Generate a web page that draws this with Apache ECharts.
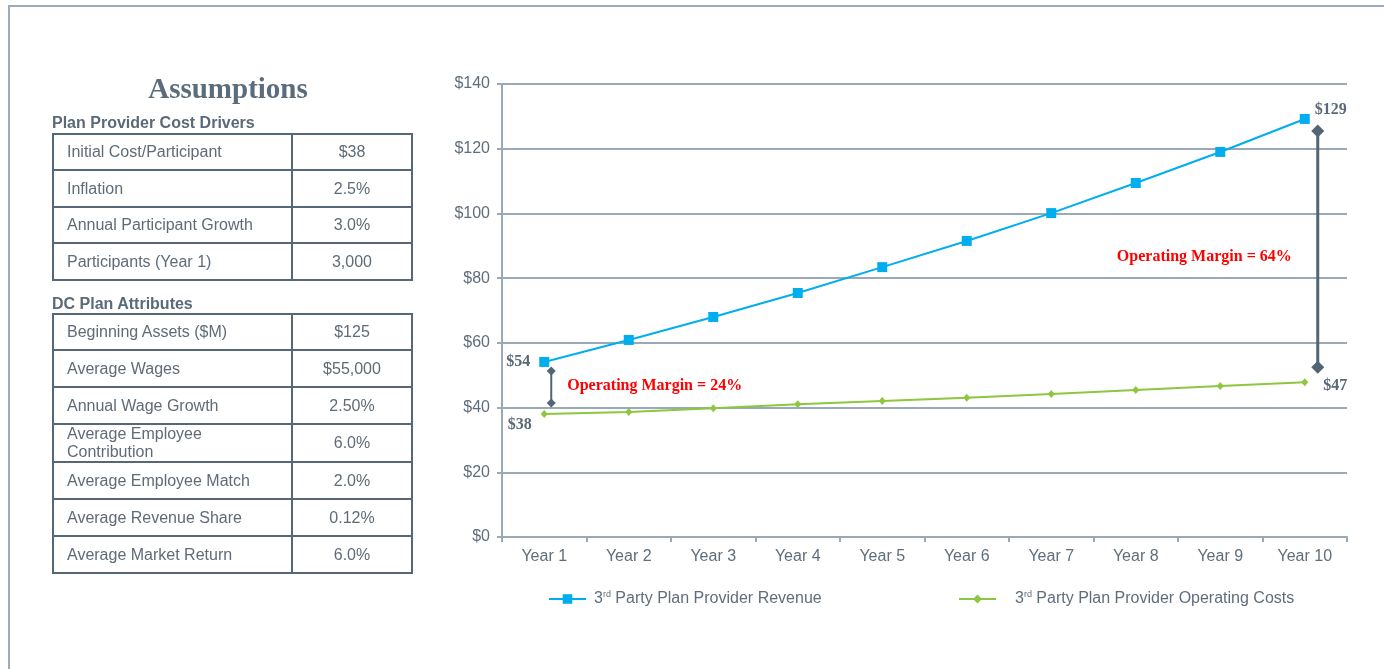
<!DOCTYPE html>
<html>
<head>
<meta charset="utf-8">
<script src="https://cdn.jsdelivr.net/npm/echarts@6/dist/echarts.min.js"></script>
<style>
  html, body { margin: 0; padding: 0; background: #ffffff; }
  body { width: 1384px; height: 669px; position: relative; overflow: hidden; font-family: "Liberation Sans", Arial, sans-serif; }
  #frame { position: absolute; left: 8px; top: 5px; width: 1376px; height: 664px; border-top: 2px solid #9eabb8; border-left: 2px solid #9eabb8; box-sizing: border-box; }
  #chart { position: absolute; left: 0; top: 0; width: 1384px; height: 669px; }
  #left { position: absolute; left: 52px; top: 0; width: 360px; z-index: 2; color: #5a6876; }
  h1 { position: absolute; left: 0; top: 70px; width: 352px; margin: 0; text-align: center; font-family: "Liberation Serif", "Times New Roman", serif; font-weight: bold; font-size: 29px; line-height: 36px; color: #5b6c7c; }
  .cap { position: absolute; left: 0; margin: 0; font-weight: bold; font-size: 16px; line-height: 18px; color: #5b6a79; white-space: nowrap; }
  table { position: absolute; left: 0; border-collapse: collapse; table-layout: fixed; width: 359px; }
  td { border: 2px solid #566777; font-size: 16px; color: #5f6b78; padding: 0 0 0 13px; line-height: 18px; white-space: nowrap; }
  td.v { text-align: center; padding: 0; }
  td.two { white-space: normal; line-height: 18px; }
</style>
</head>
<body>
<div id="frame"></div>
<div id="chart"></div>
<div id="left">
  <h1 id="title"></h1>
  <div class="cap" id="cap1" style="top:114px"></div>
  <table id="t1" style="top:133px"></table>
  <div class="cap" id="cap2" style="top:295px"></div>
  <table id="t2" style="top:313px"></table>
</div>
<script>
// ---------- data ----------
const title = 'Assumptions';
const costDriverTitle = 'Plan Provider Cost Drivers';
const costDriverLabels = ['Initial Cost/Participant', 'Inflation', 'Annual Participant Growth', 'Participants (Year 1)'];
const costDriverValues = ['$38', '2.5%', '3.0%', '3,000'];
const planAttrTitle = 'DC Plan Attributes';
const planAttrLabels = ['Beginning Assets ($M)', 'Average Wages', 'Annual Wage Growth', 'Average Employee Contribution', 'Average Employee Match', 'Average Revenue Share', 'Average Market Return'];
const planAttrValues = ['$125', '$55,000', '2.50%', '6.0%', '2.0%', '0.12%', '6.0%'];

const years = ['Year 1', 'Year 2', 'Year 3', 'Year 4', 'Year 5', 'Year 6', 'Year 7', 'Year 8', 'Year 9', 'Year 10'];
const revenue = [54.1, 60.9, 68.0, 75.4, 83.4, 91.5, 100.1, 109.4, 119.0, 129.2];
const costs = [38.0, 38.6, 39.8, 41.0, 42.0, 43.0, 44.2, 45.4, 46.7, 47.8];
const revenueName = '3rd Party Plan Provider Revenue';
const costsName = '3rd Party Plan Provider Operating Costs';
const yTicks = { min: 0, max: 140, interval: 20 };

const revenueLabels = { 0: '$54', 9: '$129' };
const costLabels = { 0: '$38', 9: '$47' };

const marginYearIndex = [0, 9];
const marginTop = [51.3, 125.5];
const marginBottom = [41.4, 52.5];
const marginText = ['Operating Margin = 24%', 'Operating Margin = 64%'];

// ---------- tables ----------
document.getElementById('title').textContent = title;
document.getElementById('cap1').textContent = costDriverTitle;
document.getElementById('cap2').textContent = planAttrTitle;
function fill(id, labels, values, heights) {
  const t = document.getElementById(id);
  const cg = document.createElement('colgroup');
  cg.innerHTML = '<col style="width:239px"><col style="width:120px">';
  t.appendChild(cg);
  labels.forEach((l, i) => {
    const tr = document.createElement('tr');
    tr.style.height = heights[i] + 'px';
    const a = document.createElement('td');
    a.textContent = l;
    if (l.length > 26) { a.className = 'two'; a.style.whiteSpace = 'normal'; a.style.paddingRight = '70px'; }
    const b = document.createElement('td');
    b.className = 'v';
    b.textContent = values[i];
    tr.appendChild(a); tr.appendChild(b);
    t.appendChild(tr);
  });
}
fill('t1', costDriverLabels, costDriverValues, [36, 37, 36, 37]);
fill('t2', planAttrLabels, planAttrValues, [36, 37, 37, 38, 37, 37, 37]);

// ---------- chart ----------
const textGray = '#5f6e7c';
const gridGray = '#9ba8b5';
const chart = echarts.init(document.getElementById('chart'), null, { renderer: 'canvas' });

function supName(n) { return n.replace(/^3rd/, '3{sup|rd}'); }
const legendText = {
  color: textGray, fontSize: 16, lineHeight: 18, fontFamily: 'Liberation Sans, Arial, sans-serif',
  rich: { sup: { fontSize: 9, color: textGray, verticalAlign: 'top', lineHeight: 9 } }
};

const bracketStyle = [
  { dx: 7, diamond: 9, width: 2, textDx: 16, textDy: -1, align: 'left' },
  { dx: 13, diamond: 13, width: 3, textDx: -26, textDy: 8, align: 'right' }
];

chart.setOption({
  animation: false,
  textStyle: { fontFamily: 'Liberation Sans, Arial, sans-serif' },
  grid: { left: 502, right: 37, top: 84, bottom: 132 },
  legend: [
    {
      data: [revenueName], left: 548, top: 590, padding: 0, itemWidth: 37, itemHeight: 12,
      formatter: supName, textStyle: Object.assign({ padding: [0, 0, 0, 3] }, legendText)
    },
    {
      data: [costsName], left: 958, top: 590, padding: 0, itemWidth: 37, itemHeight: 11,
      formatter: supName, textStyle: Object.assign({ padding: [0, 0, 0, 14] }, legendText)
    }
  ],
  xAxis: {
    type: 'category', data: years, boundaryGap: true,
    axisLine: { lineStyle: { color: gridGray, width: 2 } },
    axisTick: { show: true, length: 5, lineStyle: { color: gridGray, width: 2 } },
    axisLabel: { color: textGray, fontSize: 16, margin: 12 }
  },
  yAxis: {
    type: 'value', min: yTicks.min, max: yTicks.max, interval: yTicks.interval,
    axisLine: { show: true, lineStyle: { color: gridGray, width: 2 } },
    axisTick: { show: true, length: 5, lineStyle: { color: gridGray, width: 2 } },
    splitLine: { lineStyle: { color: gridGray, width: 2 } },
    axisLabel: { color: textGray, fontSize: 16, margin: 12, formatter: v => '$' + v }
  },
  series: [
    {
      name: revenueName, type: 'line', symbol: 'rect', symbolSize: 10, showAllSymbol: true,
      lineStyle: { color: '#00aeef', width: 2 }, itemStyle: { color: '#00aeef' },
      data: revenue.map((v, i) => {
        const d = { value: v };
        if (revenueLabels[i] !== undefined) {
          d.label = {
            show: true, formatter: revenueLabels[i],
            position: i === 0 ? 'left' : 'right', distance: i === 0 ? 9 : 5,
            offset: i === 0 ? [0, 0] : [0, -9],
            color: '#5b6877', fontFamily: 'Liberation Serif, Times New Roman, serif', fontWeight: 'bold', fontSize: 16
          };
        }
        return d;
      }),
      z: 3
    },
    {
      name: costsName, type: 'line', symbol: 'diamond', symbolSize: [7, 8], showAllSymbol: true,
      lineStyle: { color: '#8dc63f', width: 2 }, itemStyle: { color: '#8dc63f' },
      data: costs.map((v, i) => {
        const d = { value: v };
        if (costLabels[i] !== undefined) {
          d.label = {
            show: true, formatter: costLabels[i],
            position: i === 0 ? 'left' : 'right', distance: i === 0 ? 9 : 15,
            offset: i === 0 ? [0, 11] : [0, 4],
            color: '#5b6877', fontFamily: 'Liberation Serif, Times New Roman, serif', fontWeight: 'bold', fontSize: 16
          };
        }
        return d;
      }),
      z: 3
    },
    {
      type: 'custom', clip: false, z: 4, silent: true,
      data: marginYearIndex.map((x, i) => [x, marginTop[i], marginBottom[i], i]),
      renderItem: function (params, api) {
        const i = api.value(3);
        const s = bracketStyle[i];
        const p1 = api.coord([api.value(0), api.value(1)]);
        const p2 = api.coord([api.value(0), api.value(2)]);
        const x = p1[0] + s.dx;
        const h = s.diamond / 2;
        const col = '#536475';
        const dia = (cy) => ({
          type: 'polygon',
          shape: { points: [[x, cy - h], [x + h, cy], [x, cy + h], [x - h, cy]] },
          style: { fill: col }
        });
        return {
          type: 'group',
          children: [
            { type: 'line', shape: { x1: x, y1: p1[1], x2: x, y2: p2[1] }, style: { stroke: col, lineWidth: s.width } },
            dia(p1[1]), dia(p2[1]),
            {
              type: 'text',
              style: {
                text: marginText[i], x: x + s.textDx, y: (p1[1] + p2[1]) / 2 + s.textDy,
                align: s.align, verticalAlign: 'middle', fill: '#ff0000',
                font: 'bold 16px "Liberation Serif", "Times New Roman", serif'
              }
            }
          ]
        };
      }
    }
  ]
});
</script>
</body>
</html>
